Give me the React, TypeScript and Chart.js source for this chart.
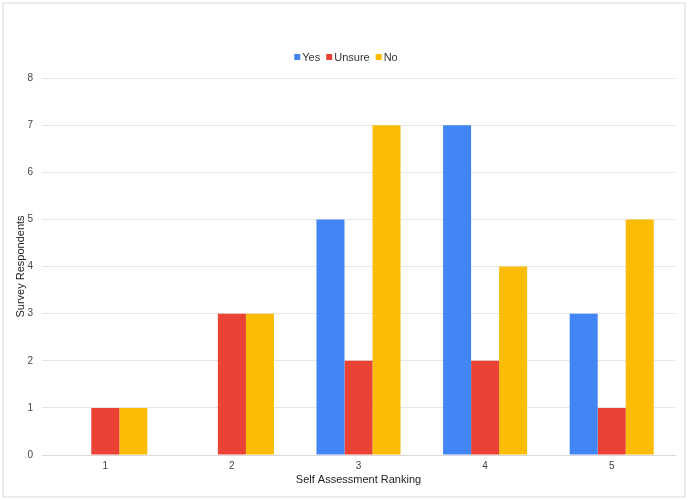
import React, { useEffect, useRef } from "react";
import { Chart, registerables } from "chart.js";

Chart.register(...registerables);

const categories = ["1", "2", "3", "4", "5"];
const yesValues = [0, 0, 5, 7, 3];
const unsureValues = [1, 3, 2, 2, 1];
const noValues = [1, 3, 7, 4, 5];
const seriesNames = ["Yes", "Unsure", "No"];
const seriesColors = ["#4285F4", "#EA4335", "#FBBC04"];
const xTitle = "Self Assessment Ranking";
const yTitle = "Survey Respondents";

const FONT = "Arial, 'Liberation Sans', sans-serif";

const customLegend = {
  id: "customLegend",
  afterDraw(chart: any) {
    const ctx = chart.ctx;
    const items = chart.data.datasets.map((d: any) => ({ label: d.label, color: d.backgroundColor }));
    const box = 6;
    const gap = 2;
    const spacing = 6;
    ctx.save();
    ctx.font = `11px ${FONT}`;
    const widths = items.map((it: any) => box + gap + ctx.measureText(it.label).width);
    const total = widths.reduce((a: number, b: number) => a + b, 0) + spacing * (items.length - 1);
    let x = chart.width / 2 - total / 2 + 2;
    const y = chart.chartArea.top - 21;
    items.forEach((it: any, i: number) => {
      ctx.fillStyle = it.color;
      ctx.fillRect(x, y - box / 2, box, box);
      ctx.fillStyle = "#333";
      ctx.textBaseline = "middle";
      ctx.textAlign = "left";
      ctx.fillText(it.label, x + box + gap, y + 0.5);
      x += widths[i] + spacing;
    });
    ctx.restore();
  },
};

export default function App() {
  const ref = useRef<HTMLCanvasElement | null>(null);

  useEffect(() => {
    document.body.style.margin = "0";
    const chart = new Chart(ref.current!, {
      type: "bar",
      data: {
        labels: categories,
        datasets: [
          { label: seriesNames[0], data: yesValues, backgroundColor: seriesColors[0] },
          { label: seriesNames[1], data: unsureValues, backgroundColor: seriesColors[1] },
          { label: seriesNames[2], data: noValues, backgroundColor: seriesColors[2] },
        ].map((d) => ({ ...d, categoryPercentage: 0.664, barPercentage: 1, borderWidth: 0 })),
      },
      plugins: [customLegend],
      options: {
        animation: false,
        responsive: false,
        maintainAspectRatio: false,
        layout: { padding: { top: 78, left: 14, right: 13, bottom: 13 } },
        plugins: {
          legend: { display: false },
          tooltip: { enabled: false },
        },
        scales: {
          x: {
            afterFit: (s: any) => {
              s.height = 32;
            },
            grid: { display: false, drawTicks: false },
            border: { color: "#dadada" },
            ticks: { color: "#444", font: { family: FONT, size: 10 }, padding: 5 },
            title: { display: true, text: xTitle, color: "#222", font: { family: FONT, size: 11 }, padding: { top: 2, bottom: 0 } },
          },
          y: {
            min: 0,
            max: 8,
            afterFit: (s: any) => {
              s.width = 28;
            },
            grid: { color: "#e6e6e6", drawTicks: false },
            border: { display: false },
            ticks: { stepSize: 1, color: "#444", font: { family: FONT, size: 10 }, padding: 9 },
            title: { display: true, text: yTitle, color: "#222", font: { family: FONT, size: 11 }, padding: { top: 0, bottom: 2 } },
          },
        },
      },
    });
    return () => chart.destroy();
  }, []);

  return (
    <div style={{ position: "absolute", left: 0, top: 0, width: 688, height: 500, background: "#fff" }}>
      <canvas ref={ref} width={688} height={500} style={{ position: "absolute", left: 0, top: 0, width: 688, height: 500 }} />
      <div
        style={{
          position: "absolute",
          left: 2,
          top: 2,
          width: 684,
          height: 496,
          boxSizing: "border-box",
          border: "2px solid #ececec",
          pointerEvents: "none",
        }}
      />
    </div>
  );
}
